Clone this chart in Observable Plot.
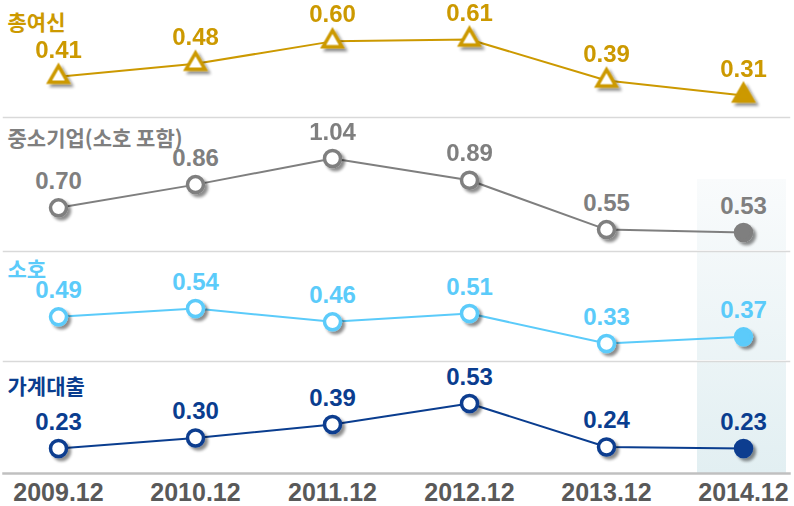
<!DOCTYPE html>
<html>
<head>
<meta charset="utf-8">
<script src="https://cdn.jsdelivr.net/npm/d3@7"></script>
<script src="https://cdn.jsdelivr.net/npm/@observablehq/plot@0.6"></script>
<style>
  html, body { margin: 0; padding: 0; background: #ffffff; }
  #chart { width: 794px; height: 506px; }
  #chart svg { display: block; }
</style>
</head>
<body>
<div id="chart"></div>
<script>
// ---- data ----
const periods = ["2009.12", "2010.12", "2011.12", "2012.12", "2013.12", "2014.12"];
const seriesNames = ["총여신", "중소기업(소호 포함)", "소호", "가계대출"];
const totalLoans = [0.41, 0.48, 0.60, 0.61, 0.39, 0.31];
const smeLoans = [0.70, 0.86, 1.04, 0.89, 0.55, 0.53];
const sohoLoans = [0.49, 0.54, 0.46, 0.51, 0.33, 0.37];
const householdLoans = [0.23, 0.30, 0.39, 0.53, 0.24, 0.23];

// ---- styles ----
const panelStyles = [
  {values: totalLoans,     color: "#cc9900", symbol: "triangle", r: 7,   height: 116, top: 0,   yRange: [95, 39],  nameY: 29,   sep: false, hlTop: null, axis: false},
  {values: smeLoans,       color: "#7f7f7f", symbol: "circle",   r: 8,   height: 134, top: 116, yRange: [116, 42], nameY: 29,   sep: true,  hlTop: 62,   axis: false},
  {values: sohoLoans,      color: "#5bcbfa", symbol: "circle",   r: 8,   height: 110, top: 250, yRange: [93, 58],  nameY: 26,   sep: true,  hlTop: 0,    axis: false},
  {values: householdLoans, color: "#0a3d8f", symbol: "circle",   r: 8,   height: 146, top: 360, yRange: [88, 43],  nameY: 33,   sep: true,  hlTop: 0,    axis: true}
];
const HL_TOP_ABS = 178, HL_BOTTOM_ABS = 473;
const NUM_FONT = "'Liberation Sans', Arial, Helvetica, sans-serif";
const KR_FONT = "'Noto Sans CJK KR', 'Noto Sans', sans-serif";

const container = document.getElementById("chart");

panelStyles.forEach((p, i) => {
  const data = periods.map((period, j) => ({period, value: p.values[j], last: j === periods.length - 1}));
  const marginTop = p.sep ? 1 : 0;
  const marginBottom = p.axis ? 33 : 0;

  const defsMark = () => {
    const ns = "http://www.w3.org/2000/svg";
    const g = document.createElementNS(ns, "g");
    g.innerHTML = `<defs>
      <linearGradient id="hl${i}" gradientUnits="userSpaceOnUse" x1="0" x2="0" y1="${HL_TOP_ABS - p.top}" y2="${HL_BOTTOM_ABS - p.top}">
        <stop offset="0" stop-color="#f9fbfc"/>
        <stop offset="1" stop-color="#e2eff2"/>
      </linearGradient>
      <filter id="sh${i}" x="-60%" y="-60%" width="220%" height="220%">
        <feGaussianBlur in="SourceAlpha" stdDeviation="1.6"/>
        <feOffset dx="2.5" dy="2.5" result="off"/>
        <feComponentTransfer><feFuncA type="linear" slope="0.45"/></feComponentTransfer>
        <feMerge><feMergeNode/><feMergeNode in="SourceGraphic"/></feMerge>
      </filter>
    </defs>`;
    return g;
  };

  const marks = [defsMark];
  if (p.hlTop !== null) {
    marks.push(Plot.ruleX([periods[periods.length - 1]], {
      stroke: `url(#hl${i})`, strokeWidth: 89, dx: -2, insetTop: p.hlTop
    }));
  }
  if (p.sep) marks.push(Plot.frame({anchor: "top", stroke: "#d9d9d9", strokeWidth: 1.5}));
  if (p.axis) {
    marks.push(Plot.frame({anchor: "bottom", stroke: "#c0c0c0", strokeWidth: 2.5}));
    marks.push(Plot.text(periods, {
      x: d => d, text: d => d, frameAnchor: "bottom", lineAnchor: "bottom", dy: 27.5,
      fontSize: 25, fontWeight: "bold", fill: "#595959", fontFamily: NUM_FONT
    }));
  }
  marks.push(Plot.text([seriesNames[i]], {
    text: d => d, frameAnchor: "top-left", textAnchor: "start", lineAnchor: "bottom",
    dx: 4, dy: p.nameY - marginTop, fontSize: 21, fontWeight: "bold", fill: p.color, fontFamily: KR_FONT
  }));
  marks.push(Plot.line(data, {x: "period", y: "value", stroke: p.color, strokeWidth: 2}));
  marks.push(Plot.dot(data, {
    x: "period", y: "value", symbol: p.symbol, r: p.r, stroke: p.color, strokeWidth: 3.5,
    fill: d => d.last ? p.color : "#ffffff"
  }));
  marks.push(Plot.text(data, {
    x: "period", y: "value", text: d => d.value.toFixed(2), dy: -19, lineAnchor: "bottom",
    fontSize: 24, fontWeight: "bold", fill: p.color, fontFamily: NUM_FONT
  }));

  const svg = Plot.plot({
    width: 794,
    height: p.height,
    marginLeft: 3,
    marginRight: 5,
    marginTop,
    marginBottom,
    x: {type: "point", domain: periods, range: [56, 745], padding: 0, axis: null},
    y: {domain: d3.extent(p.values), range: p.yRange, axis: null},
    color: {type: "identity"},
    style: {fontFamily: NUM_FONT, background: "transparent", overflow: "visible"},
    marks
  });
  svg.querySelectorAll('g[aria-label="dot"]').forEach(g => g.setAttribute("filter", `url(#sh${i})`));
  container.appendChild(svg);
});
</script>
</body>
</html>
